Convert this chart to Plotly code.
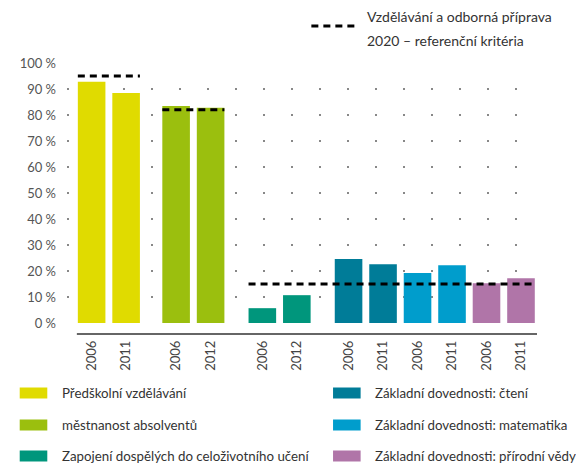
import plotly.graph_objects as go

# ---- data ----
groups = [
    {"name": "Předškolní vzdělávání", "color": "#E0DB00", "years": ["2006", "2011"], "values": [92.8, 88.5]},
    {"name": "městnanost absolventů", "color": "#9BBF0E", "years": ["2006", "2012"], "values": [83.5, 82.8]},
    {"name": "Zapojení dospělých do celoživotního učení", "color": "#00967C", "years": ["2006", "2012"], "values": [5.7, 10.7]},
    {"name": "Základní dovednosti: čtení", "color": "#007C98", "years": ["2006", "2011"], "values": [24.6, 22.6]},
    {"name": "Základní dovednosti: matematika", "color": "#009DCC", "years": ["2006", "2011"], "values": [19.2, 22.2]},
    {"name": "Základní dovednosti: přírodní vědy", "color": "#B075A8", "years": ["2006", "2011"], "values": [15.3, 17.2]},
]
# benchmark segments: (first bar index, last bar index, value)
benchmarks = [(0, 1, 95), (2, 3, 82), (4, 11, 15)]
benchmark_label = ["Vzdělávání a odborná příprava", "2020 – referenční kritéria"]
yticks = list(range(0, 101, 10))
ytick_text = [f"{v} %" for v in yticks]

# ---- layout helpers (page has an 8px body margin) ----
OFF = 8
W, H = 584 - OFF, 466 - OFF
L, R, T, B = 60 - OFF, 47, 63 - OFF, 143
PW, PH = W - L - R, H - T - B
def px(x): return (x - OFF - L) / PW
def py(y): return (H - B - (y - OFF)) / PH

# gaps (in bar slots) before each group in the x-axis layout
gap_before = [0, 0.45, 0.5, 0.5, 0, 0]
BARW = 0.8

fig = go.Figure()
positions, ticktext = [], []
cur = 0.0
for gi, g in enumerate(groups):
    cur += gap_before[gi]
    xs = []
    for yr in g["years"]:
        xs.append(cur)
        positions.append(cur)
        ticktext.append(yr)
        cur += 1
    fig.add_trace(go.Bar(x=xs, y=g["values"], width=BARW, marker_color=g["color"],
                         marker_line_width=0, name=g["name"], showlegend=False))

for i0, i1, v in benchmarks:
    fig.add_trace(go.Scatter(x=[positions[i0] - BARW / 2, positions[i1] + BARW / 2], y=[v, v],
                             mode="lines", line=dict(color="black", width=3, dash="7px,5px"),
                             showlegend=False, hoverinfo="skip"))

font = "Lato, 'Noto Sans', sans-serif"
fig.update_layout(
    width=W, height=H, margin=dict(l=L, r=R, t=T, b=B),
    paper_bgcolor="white", plot_bgcolor="white",
    font=dict(family=font, color="#444"),
    xaxis=dict(range=[-0.714, 12.914], tickvals=positions, ticktext=ticktext,
               tickangle=-90, tickfont=dict(size=13, color="#444"), showgrid=False,
               zeroline=False, showline=False, ticks="", ticklabelstandoff=14),
    yaxis=dict(range=[0, 100], tickvals=yticks, ticktext=ytick_text, tickfont=dict(size=13, color="#555"),
               showgrid=True, gridcolor="#888", gridwidth=2, griddash="2px,26px",
               zeroline=False, showline=False, ticks="", ticklabelstandoff=10),
)

# axis baseline below bars
fig.add_shape(type="line", xref="paper", yref="paper", x0=px(70), x1=px(537), y0=py(334), y1=py(334),
              line=dict(color="#666", width=2))

# top benchmark legend
fig.add_shape(type="line", xref="paper", yref="paper", x0=px(308), x1=px(352), y0=py(26), y1=py(26),
              line=dict(color="black", width=3, dash="7px,5px"))
for k, txt in enumerate(benchmark_label):
    fig.add_annotation(xref="paper", yref="paper", x=px(362), y=py(17 + 23 * k), text=txt,
                       showarrow=False, xanchor="left", yanchor="middle",
                       font=dict(size=14, color="#333", family=font))

# bottom legend (2 columns x 3 rows)
col_x = [12, 330]
row_y = [393, 425, 456]
for gi, g in enumerate(groups):
    c, r = gi // 3, gi % 3
    x0 = col_x[c]
    yc = row_y[r]
    fig.add_shape(type="rect", xref="paper", yref="paper", x0=px(x0), x1=px(x0 + 28),
                  y0=py(yc - 5.5), y1=py(yc + 5.5), fillcolor=g["color"], line_width=0)
    fig.add_annotation(xref="paper", yref="paper", x=px(x0 + 41), y=py(yc), text=g["name"],
                       showarrow=False, xanchor="left", yanchor="middle",
                       font=dict(size=13.3, color="#333", family=font))

fig.write_html("out.html")
